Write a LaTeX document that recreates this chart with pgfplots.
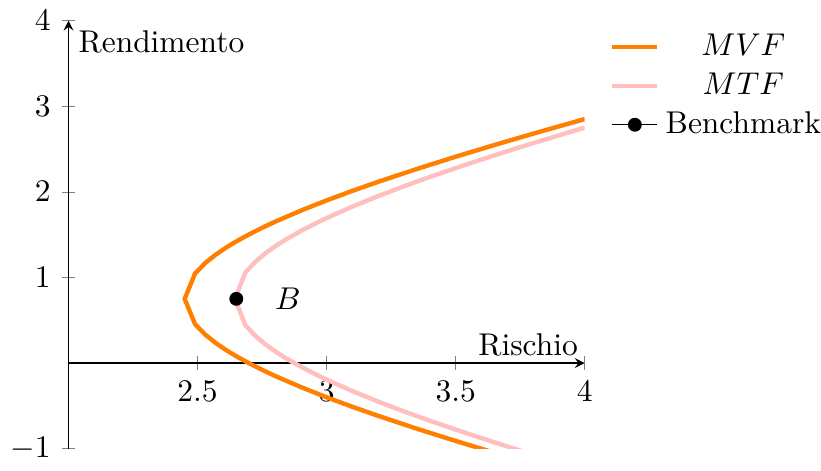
\documentclass[border=0pt]{standalone}
\usepackage{pgfplots}
\pgfplotsset{compat=1.18}
% shorter legend sample line (0.5cm)
\pgfplotsset{shortlegend/.style={legend image code/.code={%
    \draw[mark repeat=2, mark phase=2, ##1]
      plot coordinates {(0cm,0cm) (0.25cm,0cm) (0.5cm,0cm)};}}}
\begin{document}
\begin{tikzpicture}
\begin{axis}[
  scale only axis,
  width=164pt, height=136pt,
  axis lines=middle,
  xmin=2, xmax=4, ymin=-1, ymax=4,
  xtick={2.5,3,3.5,4},
  ytick={-1,1,2,3,4},
  clip=true,
  xlabel={Rischio}, ylabel={Rendimento},
  xlabel style={at={(axis cs:4,0)}, anchor=south east, inner sep=2pt},
  ylabel style={at={(axis cs:2,4)}, anchor=north west, inner sep=3pt, rotate=0},
  legend style={at={(1.03,1)}, anchor=north west, draw=none, fill=none},
  legend cell align=center,
]
% efficient frontier, mean-variance
\addplot[orange, line width=1.4pt, shortlegend] coordinates {
  (3.65,-1.0469) (3.50,-0.9101) (3.35,-0.7674) (3.20,-0.6172) (3.10,-0.5115)
  (3.00,-0.3999) (2.90,-0.2805) (2.80,-0.1503) (2.75,-0.0795) (2.70,-0.0036)
  (2.65,0.0792) (2.61,0.1524) (2.57,0.2345) (2.53,0.3308) (2.49,0.4548)
  (2.45,0.75)
  (2.49,1.0452) (2.53,1.1692) (2.57,1.2655) (2.61,1.3476) (2.65,1.4208)
  (2.70,1.5036) (2.75,1.5795) (2.80,1.6503) (2.90,1.7805) (3.00,1.8999)
  (3.10,2.0115) (3.20,2.1172) (3.35,2.2674) (3.50,2.4101) (3.65,2.5469)
  (3.80,2.6792) (4.00,2.85)
};
\addlegendentry{$MVF$}
% efficient frontier, tracking error
\addplot[pink, line width=1.4pt, shortlegend] coordinates {
  (3.80,-1.0685) (3.70,-0.9745) (3.55,-0.8282) (3.40,-0.6739) (3.30,-0.5653)
  (3.20,-0.4505) (3.10,-0.3276) (3.00,-0.1935) (2.95,-0.1207) (2.90,-0.0426)
  (2.845,0.0516) (2.805,0.1276) (2.765,0.2130) (2.725,0.3131) (2.685,0.4422)
  (2.645,0.75)
  (2.685,1.0578) (2.725,1.1869) (2.765,1.2870) (2.805,1.3724) (2.845,1.4484)
  (2.90,1.5426) (2.95,1.6207) (3.00,1.6935) (3.10,1.8276) (3.20,1.9505)
  (3.30,2.0653) (3.40,2.1739) (3.55,2.3282) (3.70,2.4745) (3.80,2.5685)
  (4.00,2.75)
};
\addlegendentry{$MTF$}
\addplot[black, mark=*, mark size=2pt, shortlegend] coordinates {(2.65,0.75)};
\addlegendentry{Benchmark}
\node at (axis cs:2.85,0.75) {$B$};
\end{axis}
% tighten the right edge to the legend text
\coordinate (bbsw) at (current bounding box.south west);
\coordinate (bbne) at (current bounding box.north east);
\pgfresetboundingbox
\path[use as bounding box] (bbsw) rectangle ([xshift=-5pt]bbne);
\end{tikzpicture}
\end{document}
